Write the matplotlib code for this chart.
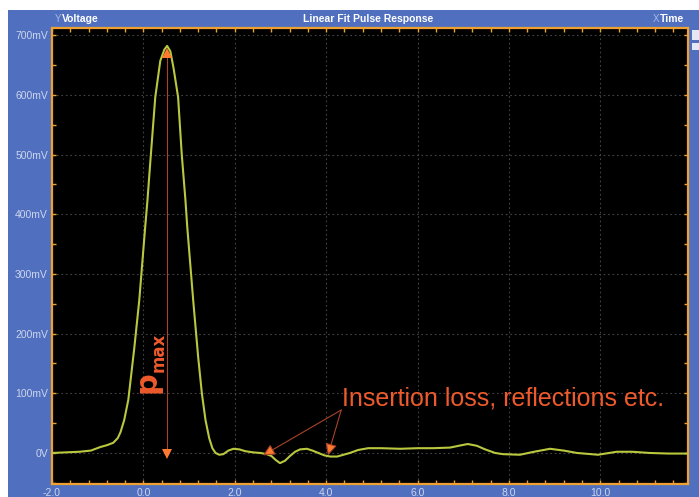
import matplotlib
matplotlib.use("Agg")
import matplotlib.pyplot as plt
from matplotlib.patches import Rectangle
from matplotlib.ticker import MultipleLocator, FixedLocator

# Pulse response samples: time in ns, amplitude in mV
time_ns = [-2.0, -1.7, -1.4, -1.15, -0.94, -0.80, -0.66, -0.56, -0.50, -0.42,
           -0.33, -0.28, -0.20, -0.09, 0.04, 0.09, 0.15, 0.26, 0.37, 0.46,
           0.52, 0.59, 0.66, 0.76, 0.84, 0.92, 0.96, 1.09, 1.20, 1.28,
           1.36, 1.44, 1.51, 1.58, 1.66, 1.75, 1.86, 1.97, 2.10, 2.23,
           2.40, 2.56, 2.70, 2.80, 2.90, 2.99, 3.10, 3.21, 3.32, 3.43,
           3.58, 3.70, 3.83, 3.96, 4.09, 4.24, 4.38, 4.52, 4.70, 4.92,
           5.20, 5.62, 6.00, 6.34, 6.71, 6.90, 7.10, 7.30, 7.48, 7.70,
           7.87, 8.24, 8.55, 8.90, 9.20, 9.49, 9.95, 10.36, 10.70, 11.08,
           11.50, 11.92]
voltage_mv = [0, 1, 2, 4, 10, 13, 17, 25, 35, 55,
              89, 122, 175, 256, 379, 424, 486, 596, 657, 676,
              682, 673, 645, 596, 500, 424, 379, 256, 160, 100,
              55, 25, 8, 0, -3, -2, 4, 7, 6, 3,
              1, 0, -2, -5, -12, -17, -13, -5, 2, 6,
              7, 4, 0, -4, -6, -6, -3, 0, 5, 8,
              8, 7, 8, 8, 9, 12, 15, 12, 6, 0,
              -2, -3, 2, 7, 4, 0, -3, 2, 2, 0,
              -1, -1]

x_ticks = [-2, 0, 2, 4, 6, 8, 10]
x_tick_labels = ["-2.0", "0.0", "2.0", "4.0", "6.0", "8.0", "10.0"]
y_ticks = [0, 100, 200, 300, 400, 500, 600, 700]
y_tick_labels = ["0V", "100mV", "200mV", "300mV", "400mV", "500mV", "600mV", "700mV"]

title_text = "Linear Fit Pulse Response"
y_axis_name = "Voltage"
x_axis_name = "Time"
note_text = "Insertion loss, reflections etc."

W, H = 699, 497
BLUE = "#5070bf"
ORANGE = "#f0a030"
TRACE = "#b9c83e"
LABEL = "#cdd5ee"
NOTE = "#ee5a2c"
HEAD = "#ff7a30"
STEM = "#a84428"

fig = plt.figure(figsize=(W / 100, H / 100), dpi=100)
fig.patch.set_facecolor("white")

# instrument window background
fig.patches.append(Rectangle((8 / W, 0), 1 - 8 / W, 1 - 10 / H,
                             transform=fig.transFigure, facecolor=BLUE,
                             edgecolor="none", zorder=-10))
# scroll buttons at the right edge
for y0, h in [(30, 10), (43, 7)]:
    fig.patches.append(Rectangle((692 / W, 1 - (y0 + h) / H), 8 / W, h / H,
                                 transform=fig.transFigure, facecolor="#e4e8f4",
                                 edgecolor="none", zorder=-5))

ax = fig.add_axes([52 / W, 13 / H, 636 / W, 456 / H])
ax.set_zorder(1)
ax.set_facecolor("black")
ax.set_xlim(-2.0, 11.92)
ax.set_ylim(-52, 712)

for s in ax.spines.values():
    s.set_color(ORANGE)
    s.set_linewidth(1.6)

ax.xaxis.set_major_locator(FixedLocator(x_ticks))
ax.set_xticklabels(x_tick_labels)
ax.yaxis.set_major_locator(FixedLocator(y_ticks))
ax.set_yticklabels(y_tick_labels)
ax.xaxis.set_minor_locator(MultipleLocator(0.4))
ax.yaxis.set_minor_locator(MultipleLocator(50))
ax.tick_params(which="both", direction="in", color=ORANGE, top=True, right=True,
               length=3, width=1)
ax.tick_params(axis="both", which="major", labelcolor=LABEL, labelsize=7.5)
ax.tick_params(axis="x", which="major", pad=3)
ax.tick_params(axis="y", which="major", pad=3)
for lab in ax.get_xticklabels() + ax.get_yticklabels():
    lab.set_fontfamily("Liberation Sans")

ax.grid(True, which="major", color="#444444", linestyle=(0, (1.5, 2.5)), linewidth=0.8)
ax.set_axisbelow(True)

ax.plot(time_ns, voltage_mv, color=TRACE, linewidth=1.5, zorder=3)

# p_max marker spanning the peak down to 0 V
peak_mv = max(voltage_mv)
peak_t = time_ns[voltage_mv.index(peak_mv)]
ax.plot([peak_t, peak_t], [-2, peak_mv - 10], color=STEM, linewidth=0.8, zorder=4)
ax.plot([peak_t], [peak_mv - 12], marker="^", markersize=7, color=HEAD,
        markeredgewidth=0, zorder=5)
ax.plot([peak_t], [-2], marker="v", markersize=7, color=HEAD,
        markeredgewidth=0, zorder=5)
ax.text(0.262, 100, "p", rotation=90, rotation_mode="anchor", ha="left",
        va="baseline", fontsize=22, fontweight="bold", color=NOTE,
        family="DejaVu Sans", zorder=6)
ax.text(0.437, 136, "max", rotation=90, rotation_mode="anchor", ha="left",
        va="baseline", fontsize=12, fontweight="bold", color=NOTE,
        family="DejaVu Sans", zorder=6)

# loss / reflection callout
ax.text(4.35, 92, note_text, ha="left", va="center", fontsize=18,
        color=NOTE, family="Liberation Sans", zorder=6)
for tip in [(2.62, -4), (4.04, -4)]:
    ax.annotate("", xy=tip, xytext=(4.33, 72),
                arrowprops=dict(arrowstyle="-|>,head_length=0.7,head_width=0.35",
                                edgecolor=STEM, facecolor=HEAD, linewidth=0.8,
                                shrinkA=0, shrinkB=0), zorder=6)

# header bar
ty = 1 - 19 / H
fig.text(55 / W, ty, "Y", color="#a9b8e4", fontsize=7, va="center",
         family="Liberation Sans")
fig.text(62 / W, ty, y_axis_name, color="white", fontsize=7.5, fontweight="bold",
         va="center", family="Liberation Sans")
fig.text(368 / W, ty, title_text, color="white", fontsize=7.5, fontweight="bold",
         va="center", ha="center", family="Liberation Sans")
fig.text(653 / W, ty, "X", color="#a9b8e4", fontsize=7, va="center",
         family="Liberation Sans")
fig.text(660 / W, ty, x_axis_name, color="white", fontsize=7.5, fontweight="bold",
         va="center", family="Liberation Sans")

fig.savefig("out.png", dpi=100, facecolor=fig.get_facecolor())
